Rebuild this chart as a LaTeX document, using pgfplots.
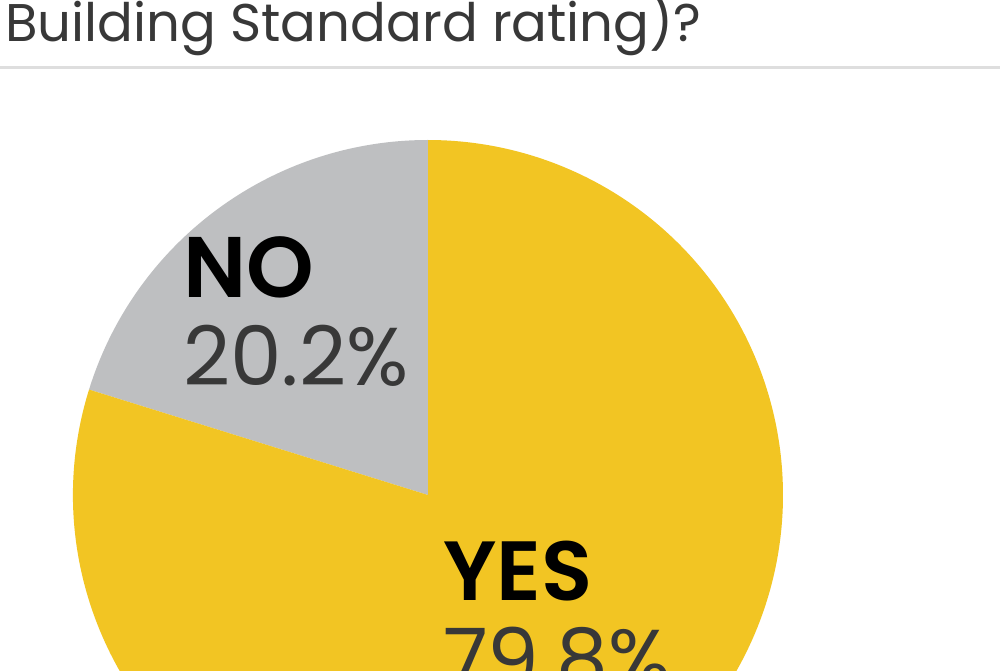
\documentclass[border=0pt]{standalone}
\usepackage{pgfplots}
\pgfplotsset{compat=1.18}
\usetikzlibrary{calc}
\usepackage{fontspec}
\setmainfont{Poppins}
\newfontfamily\semib{Poppins SemiBold}
\definecolor{pieyellow}{HTML}{F2C523}
\definecolor{piegray}{HTML}{BEBFC1}
\definecolor{txt}{HTML}{383838}
\definecolor{sep}{HTML}{DEDEDE}
% survey result (percent)
\def\valYes{79.8}
\def\valNo{20.2}
\begin{document}
\begin{tikzpicture}
\begin{axis}[name=ax, x=1pt, y=1pt, xmin=0, xmax=1000, ymin=0, ymax=670,
  scale only axis, hide axis, clip=true]
\fill[white] (axis cs:0,0) rectangle (axis cs:1000,670);
\pgfmathsetmacro{\noang}{90+3.6*\valNo}
\pgfmathsetmacro{\yesang}{\noang+3.6*\valYes}
\fill[piegray] (axis cs:428,175) -- (axis cs:428,530) arc[start angle=90, end angle=\noang, radius=355pt] -- cycle;
\fill[pieyellow] (axis cs:428,175) -- ($(axis cs:428,175)+(\noang:355pt)$) arc[start angle=\noang, end angle=\yesang, radius=355pt] -- cycle;
\draw[sep, line width=3pt] (axis cs:0,602) -- (axis cs:1000,602);
\node[anchor=base west, inner sep=0pt, text=txt, font=\fontsize{53}{53}\selectfont] at (axis cs:5,628) {Building Standard rating)?};
\node[anchor=base west, inner sep=0pt, text=black, font=\fontsize{86}{86}\semib] at (axis cs:183,372) {NO};
\node[anchor=base west, inner sep=0pt, text=txt, font=\fontsize{82}{82}\selectfont] at (axis cs:183,285) {\valNo\%};
\node[anchor=base west, inner sep=0pt, text=black, font=\fontsize{84}{84}\semib] at (axis cs:443,70) {YES};
\node[anchor=base west, inner sep=0pt, text=txt, font=\fontsize{82}{82}\selectfont] at (axis cs:443,-17) {\valYes\%};
\end{axis}
\pgfresetboundingbox
\path (ax.south west) rectangle (ax.north east);
\end{tikzpicture}
\end{document}
